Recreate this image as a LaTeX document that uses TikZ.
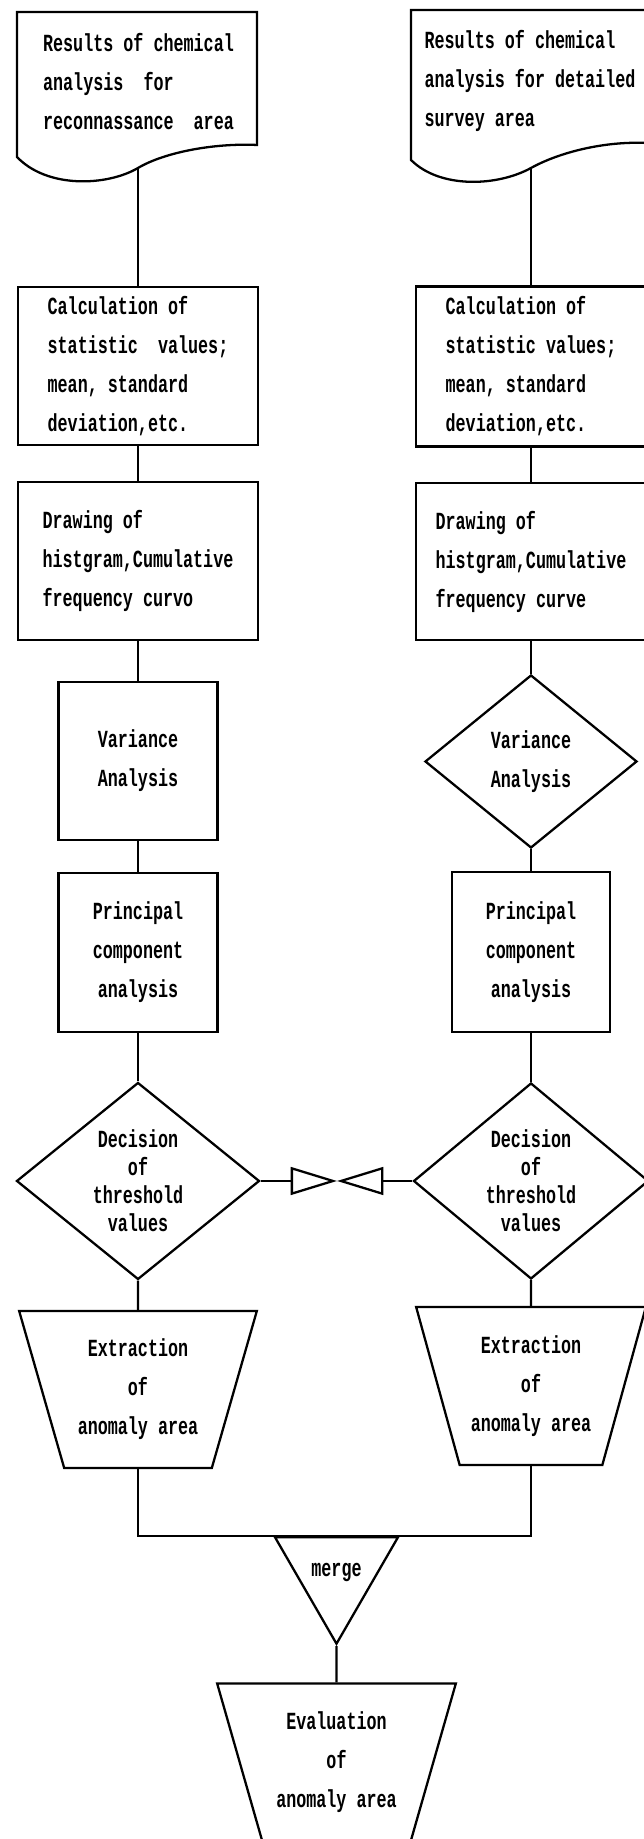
\documentclass[tikz,border=0pt]{standalone}
\usepackage{fontspec}
\usepackage{tikz}
\usetikzlibrary{shapes.geometric}
\newfontfamily\dotfont{Liberation Mono}[FakeStretch=0.68]
\newcommand{\labelfont}{\dotfont\bfseries\fontsize{14pt}{22.2pt}\selectfont}
\newcommand{\tightfont}{\dotfont\bfseries\fontsize{14pt}{15.9pt}\selectfont}

\begin{document}
\begin{tikzpicture}[line width=1.3pt,
  box/.style={draw, rectangle, inner sep=0pt, font=\labelfont},
  choice/.style={draw, diamond, inner sep=0pt, align=center},
  tray/.style={draw, trapezium, trapezium left angle=110, trapezium right angle=110,
    trapezium stretches=true, inner sep=0pt, align=center, font=\labelfont},
  doctext/.style={align=left, inner sep=0pt, font=\labelfont}]
\useasboundingbox (0,0) rectangle (12.88,36.78);
\clip (0,0) rectangle (12.88,36.78);

% input documents
\draw (5.14,36.54) -- (0.34,36.54) -- (0.34,33.64) .. controls (0.95,33.0) and (2.15,33.06) .. (2.76,33.42) coordinate (docL-out) .. controls (3.3,33.74) and (4.3,33.92) .. (5.14,33.88) -- cycle;
\draw (12.94,36.58) -- (8.22,36.58) -- (8.22,33.58) .. controls (8.8,33.0) and (9.95,33.05) .. (10.62,33.42) coordinate (docR-out) .. controls (11.2,33.74) and (12.1,33.96) .. (12.94,33.92) -- cycle;
\node[doctext] (docL) at (2.77,35.14) {Results of chemical\\analysis~ for\\reconnassance~ area};
\node[doctext] (docR) at (10.60,35.16) {Results of chemical\\analysis for detailed\\survey area};

\node[box, minimum width=4.8cm, minimum height=3.16cm, align=left] (calcL) at (2.76,29.46) {Calculation of\\statistic~ values;\\mean, standard\\deviation,etc.};
\node[box, minimum width=4.6cm, minimum height=3.2cm, align=left] (calcR) at (10.62,29.45) {Calculation of\\statistic values;\\mean, standard\\deviation,etc.};
\node[box, minimum width=4.8cm, minimum height=3.16cm, align=left] (drawL) at (2.76,25.56) {Drawing of\\histgram,Cumulative\\frequency curvo};
\node[box, minimum width=4.6cm, minimum height=3.14cm, align=left] (drawR) at (10.62,25.55) {Drawing of\\histgram,Cumulative\\frequency curve};
\node[box, minimum width=3.18cm, minimum height=3.16cm, align=center] (varL) at (2.76,21.56) {Variance\\Analysis};
\node[choice, minimum width=4.24cm, minimum height=3.46cm, font=\labelfont] (varR) at (10.62,21.55) {Variance\\Analysis};
\node[box, minimum width=3.18cm, minimum height=3.18cm, align=center] (prinL) at (2.76,17.73) {Principal\\component\\analysis};
\node[box, minimum width=3.16cm, minimum height=3.2cm, align=center] (prinR) at (10.62,17.74) {Principal\\component\\analysis};
\node[choice, minimum width=4.86cm, minimum height=3.94cm, font=\tightfont] (decL) at (2.76,13.16) {Decision\\of\\threshold\\values};
\node[choice, minimum width=4.7cm, minimum height=3.92cm, font=\tightfont] (decR) at (10.62,13.16) {Decision\\of\\threshold\\values};

% link between the two threshold decisions
\node[minimum width=1.76cm, minimum height=0.46cm, inner sep=0pt] (bow) at (6.74,13.16) {};
\draw (bow.north west) -- (bow.south west) -- ([xshift=-0.08cm]bow.center) -- cycle;
\draw (bow.north east) -- (bow.south east) -- ([xshift=0.08cm]bow.center) -- cycle;

\node[tray, minimum width=4.76cm, minimum height=3.14cm] (extrL) at (2.76,8.99) {Extraction\\of\\anomaly area};
\node[tray, minimum width=4.6cm, minimum height=3.16cm] (extrR) at (10.62,9.06) {Extraction\\of\\anomaly area};
\node[draw, regular polygon, regular polygon sides=3, regular polygon rotate=180, minimum size=2.38cm, inner sep=0pt, font=\labelfont] (merge) at (6.73,5.325) {merge};
\node[tray, minimum width=4.78cm, minimum height=3.16cm] (eval) at (6.73,1.53) {Evaluation\\of\\anomaly area};

\draw (docL-out) -- (calcL);
\draw (calcL) -- (drawL);
\draw (drawL) -- (varL);
\draw (varL) -- (prinL);
\draw (prinL) -- (decL);
\draw (decL) -- (extrL);
\draw (docR-out) -- (calcR);
\draw (calcR) -- (drawR);
\draw (drawR) -- (varR);
\draw (varR) -- (prinR);
\draw (prinR) -- (decR);
\draw (decR) -- (extrR);
\draw (decL.east) -- (bow.west);
\draw (bow.east) -- (decR.west);
\draw (extrL) |- (merge.north) -| (extrR);
\draw (merge) -- (eval);
\end{tikzpicture}
\end{document}
